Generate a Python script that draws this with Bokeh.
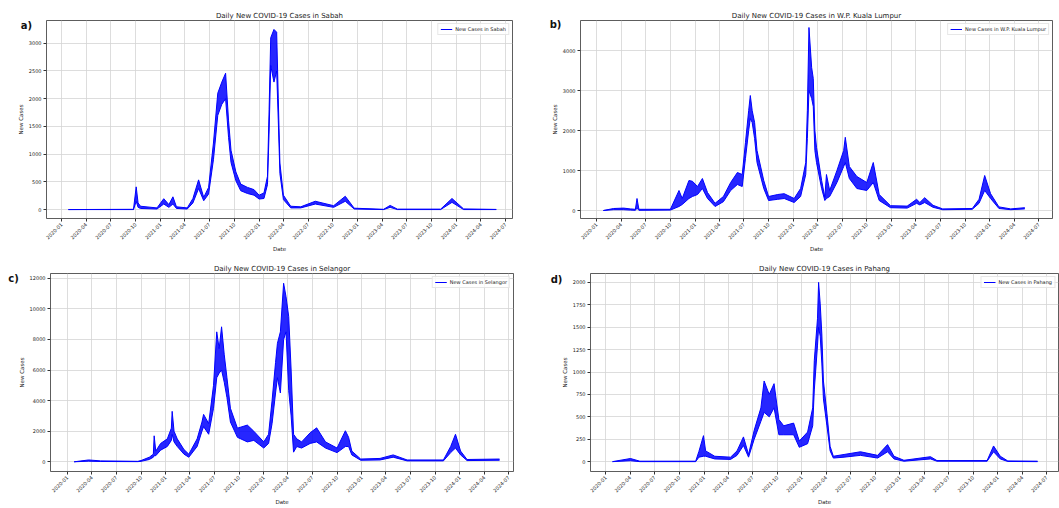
import math
import pandas as pd
from bokeh.plotting import figure
from bokeh.layouts import column, row
from bokeh.models import (ColumnDataSource, FixedTicker, DatetimeTickFormatter, Range1d,
                          Label, Legend, LegendItem)
from bokeh.embed import file_html
from bokeh.resources import INLINE

FONT = "DejaVu Sans"
BLUE = "#0000ff"

# ---------------- data (upper / lower envelope of the daily band) -------------
sabah_dates = ["2020-01-26", "2020-09-23", "2020-10-03", "2020-10-10", "2020-10-19", "2020-12-19",
               "2021-01-13", "2021-02-01", "2021-02-16", "2021-03-01", "2021-04-10", "2021-05-01",
               "2021-05-22", "2021-06-10", "2021-06-28", "2021-07-16", "2021-08-01", "2021-08-16",
               "2021-08-30", "2021-09-10", "2021-09-19", "2021-10-07", "2021-10-25", "2021-11-19",
               "2021-12-13", "2022-01-01", "2022-01-19", "2022-02-01", "2022-02-07", "2022-02-13",
               "2022-02-25", "2022-03-07", "2022-03-13", "2022-03-19", "2022-04-01", "2022-04-28",
               "2022-06-04", "2022-07-28", "2022-10-04", "2022-11-16", "2022-12-19", "2023-04-07",
               "2023-05-01", "2023-05-28", "2023-11-04", "2023-12-16", "2024-01-28", "2024-05-28"]
sabah_high = [0, 5, 410, 120, 60, 30, 196, 90, 230, 50, 30, 200,
              536, 220, 400, 1200, 2100, 2300, 2460, 1600, 1070, 680, 460, 400,
              360, 260, 300, 600, 1800, 3100, 3250, 3200, 2000, 840, 260, 60,
              50, 150, 70, 240, 25, 5, 75, 8, 8, 200, 12, 3]
sabah_low = [0, 0, 150, 40, 20, 10, 100, 40, 100, 20, 10, 120,
             380, 160, 280, 900, 1700, 1900, 2000, 1300, 850, 520, 340, 290,
             260, 190, 200, 450, 1400, 2600, 2300, 2500, 1600, 650, 180, 30,
             30, 100, 40, 150, 10, 0, 40, 0, 0, 130, 0, 0]

kl_dates = ["2020-01-26", "2020-03-04", "2020-04-10", "2020-05-05", "2020-05-24", "2020-05-30",
            "2020-06-06", "2020-10-01", "2020-11-02", "2020-11-14", "2020-12-09", "2020-12-22",
            "2021-01-10", "2021-01-28", "2021-02-16", "2021-03-16", "2021-04-16", "2021-05-13",
            "2021-06-07", "2021-06-25", "2021-07-07", "2021-07-19", "2021-07-25", "2021-08-01",
            "2021-08-10", "2021-08-19", "2021-09-13", "2021-10-01", "2021-11-04", "2021-11-28",
            "2022-01-04", "2022-01-28", "2022-02-16", "2022-02-22", "2022-02-28", "2022-03-10",
            "2022-03-16", "2022-03-22", "2022-03-28", "2022-04-16", "2022-04-28", "2022-05-04",
            "2022-05-16", "2022-06-12", "2022-07-07", "2022-07-13", "2022-07-28", "2022-08-25",
            "2022-10-01", "2022-10-25", "2022-11-16", "2022-12-28", "2023-02-28", "2023-04-04",
            "2023-04-16", "2023-05-04", "2023-06-04", "2023-07-10", "2023-10-28", "2023-11-22",
            "2023-12-13", "2024-01-04", "2024-02-04", "2024-03-19", "2024-05-10"]
kl_high = [0, 50, 60, 40, 30, 300, 30, 30, 500, 300, 750, 730,
           600, 800, 450, 180, 350, 700, 950, 900, 1700, 2500, 2875, 2500,
           2200, 1500, 750, 350, 400, 420, 300, 550, 1200, 2500, 4575, 3575,
           3300, 2000, 1580, 750, 330, 900, 500, 1000, 1500, 1830, 1100, 850,
           700, 1200, 400, 120, 110, 280, 200, 320, 130, 40, 50, 280,
           875, 420, 90, 40, 70]
kl_low = [0, 20, 20, 10, 5, 60, 5, 10, 100, 150, 300, 350,
          400, 550, 300, 100, 220, 500, 650, 600, 1300, 2000, 2300, 2200,
          1800, 1200, 550, 250, 280, 300, 200, 350, 900, 1800, 3000, 2800,
          2600, 1500, 1200, 550, 250, 300, 350, 700, 1100, 1200, 800, 550,
          500, 700, 250, 70, 60, 180, 140, 200, 80, 20, 30, 180,
          500, 300, 50, 20, 40]

selangor_dates = ["2020-01-26", "2020-03-20", "2020-05-04", "2020-09-19", "2020-10-01", "2020-11-01",
                  "2020-11-16", "2020-11-19", "2020-11-25", "2020-12-13", "2021-01-07", "2021-01-22",
                  "2021-01-25", "2021-02-01", "2021-02-13", "2021-03-10", "2021-03-28", "2021-04-28",
                  "2021-05-16", "2021-05-22", "2021-06-10", "2021-06-28", "2021-07-10", "2021-07-19",
                  "2021-07-28", "2021-08-07", "2021-08-17", "2021-08-30", "2021-09-25", "2021-11-01",
                  "2021-11-25", "2022-01-01", "2022-01-19", "2022-02-01", "2022-02-14", "2022-02-21",
                  "2022-03-04", "2022-03-16", "2022-03-25", "2022-04-04", "2022-04-13", "2022-04-22",
                  "2022-05-04", "2022-05-22", "2022-06-23", "2022-07-17", "2022-08-19", "2022-10-01",
                  "2022-11-01", "2022-11-13", "2022-11-25", "2022-12-28", "2023-03-10", "2023-04-28",
                  "2023-06-19", "2023-11-01", "2023-11-28", "2023-12-16", "2024-01-04", "2024-01-28",
                  "2024-05-28"]
selangor_high = [0, 120, 60, 30, 80, 300, 500, 1700, 700, 1200, 1500, 2200,
                 3300, 2000, 1500, 800, 500, 1500, 2600, 3100, 2500, 5000, 8500, 7400,
                 8830, 7000, 5500, 3500, 2200, 2400, 2000, 1300, 1800, 4000, 6500, 7750,
                 8500, 11680, 10800, 9500, 6000, 1800, 1500, 1300, 1900, 2220, 1300, 900,
                 2030, 1600, 700, 180, 220, 450, 120, 120, 1000, 1800, 700, 150,
                 180]
selangor_low = [0, 40, 20, 10, 30, 150, 300, 400, 400, 760, 1000, 1400,
                1800, 1300, 1000, 500, 300, 1000, 2000, 2300, 1800, 3500, 5500, 5800,
                6000, 5200, 4200, 2600, 1600, 1300, 1400, 900, 1200, 2500, 4500, 5500,
                4500, 8000, 8500, 4650, 3000, 630, 1000, 900, 1200, 1300, 900, 600,
                1000, 1000, 450, 100, 120, 300, 60, 60, 600, 900, 450, 80,
                100]

pahang_dates = ["2020-01-26", "2020-04-02", "2020-05-07", "2020-12-01", "2020-12-13", "2020-12-30",
                "2021-01-07", "2021-02-10", "2021-04-10", "2021-05-04", "2021-05-28", "2021-06-16",
                "2021-07-07", "2021-08-01", "2021-08-13", "2021-09-01", "2021-09-19", "2021-10-07",
                "2021-10-25", "2021-12-01", "2021-12-22", "2022-01-22", "2022-02-10", "2022-02-16",
                "2022-02-28", "2022-03-04", "2022-03-10", "2022-03-16", "2022-03-22", "2022-04-04",
                "2022-04-16", "2022-04-28", "2022-06-07", "2022-08-07", "2022-10-10", "2022-11-16",
                "2022-12-10", "2023-01-16", "2023-04-25", "2023-05-19", "2023-11-22", "2023-12-16",
                "2024-01-10", "2024-02-07", "2024-05-28"]
pahang_high = [0, 35, 5, 5, 114, 290, 120, 60, 50, 120, 276, 80,
               350, 600, 900, 750, 870, 470, 400, 430, 230, 330, 600, 1130,
               1600, 2000, 1760, 1425, 900, 540, 170, 60, 80, 110, 70, 190,
               60, 15, 55, 12, 12, 175, 60, 8, 5]
pahang_low = [0, 10, 0, 0, 50, 60, 60, 30, 25, 70, 180, 50,
              250, 450, 550, 500, 600, 300, 300, 300, 160, 200, 400, 800,
              1300, 1500, 1400, 1100, 700, 400, 120, 40, 50, 70, 40, 110,
              30, 5, 30, 5, 5, 110, 30, 2, 0]

tick_dates = ["2020-01-01", "2020-04-01", "2020-07-01", "2020-10-01", "2021-01-01", "2021-04-01",
              "2021-07-01", "2021-10-01", "2022-01-01", "2022-04-01", "2022-07-01", "2022-10-01",
              "2023-01-01", "2023-04-01", "2023-07-01", "2023-10-01", "2024-01-01", "2024-04-01",
              "2024-07-01"]


def ms(s):
    return pd.Timestamp(s).value / 1e6


TICKS = [ms(d) for d in tick_dates]


def panel(title, legend_label, letter, dates, hi, lo, yticks, yr, xr, width, height,
          borders, letter_xy):
    bl, br, bt, bb = borders
    p = figure(width=width, height=height, output_backend="svg", toolbar_location=None,
               x_axis_type="datetime",
               x_range=Range1d(ms(xr[0]), ms(xr[1])), y_range=Range1d(*yr),
               min_border_left=bl, min_border_right=br, min_border_top=bt, min_border_bottom=bb,
               background_fill_color="white", border_fill_color="white")
    src = ColumnDataSource(dict(x=pd.to_datetime(dates), hi=hi, lo=lo))
    p.varea(x="x", y1="lo", y2="hi", source=src, fill_color=BLUE, fill_alpha=0.85)
    r = p.line("x", "hi", source=src, line_color=BLUE, line_width=1)
    p.line("x", "lo", source=src, line_color=BLUE, line_width=1)

    leg = Legend(items=[LegendItem(label=legend_label, renderers=[r])], location="top_right",
                 label_text_font_size="5px", label_text_font=FONT, label_text_color="#222",
                 glyph_width=12, glyph_height=6, label_height=6, label_standoff=3,
                 padding=2, spacing=0, margin=3,
                 border_line_color="#d0d0d0", border_line_width=0.8,
                 background_fill_alpha=0.8)
    p.add_layout(leg)

    p.title.text = title
    p.title.align = "center"
    p.title.text_font = FONT
    p.title.text_font_size = "7px"
    p.title.text_font_style = "normal"
    p.title.text_color = "#222"
    p.title.standoff = 2

    p.xaxis.ticker = FixedTicker(ticks=TICKS)
    fmt = "%Y-%m"
    p.xaxis.formatter = DatetimeTickFormatter(years=fmt, months=fmt, days=fmt, hours=fmt,
                                              minutes=fmt, seconds=fmt, milliseconds=fmt,
                                              microseconds=fmt, hourmin=fmt, minsec=fmt)
    p.xaxis.major_label_orientation = math.pi / 4
    p.yaxis.ticker = FixedTicker(ticks=yticks)
    p.xaxis.axis_label = "Date"
    p.yaxis.axis_label = "New Cases"
    for ax in (p.xaxis, p.yaxis):
        ax.axis_label_text_font = FONT
        ax.axis_label_text_font_size = "5.5px"
        ax.axis_label_text_font_style = "normal"
        ax.axis_label_text_color = "#222"
        ax.axis_label_standoff = 2
        ax.major_label_text_font = FONT
        ax.major_label_text_font_size = "5px"
        ax.major_label_text_color = "#222"
        ax.major_label_standoff = 2
        ax.axis_line_color = None
        ax.major_tick_line_color = "#333"
        ax.major_tick_out = 3
        ax.major_tick_in = 0
        ax.minor_tick_line_color = None
    p.xgrid.ticker = FixedTicker(ticks=TICKS)
    p.ygrid.ticker = FixedTicker(ticks=yticks)
    p.grid.grid_line_color = "#d4d4d4"
    p.grid.grid_line_width = 0.8
    p.outline_line_color = "#333"
    p.outline_line_width = 0.8

    lx, ly = letter_xy
    p.add_layout(Label(x=lx, y=ly, x_units="canvas", y_units="canvas", text=letter,
                       text_font=FONT, text_font_size="10px", text_font_style="bold",
                       text_color="#111", text_align="center", text_baseline="middle"), "left")
    return p


# frame edges measured: a 46-512 x 19-219 ; b 580-1052 x 20-218 ; c 50-513 x 273-477 ; d 590-1058 x 272-472
pa = panel("Daily New COVID-19 Cases in Sabah", "New Cases in Sabah", "a)",
           sabah_dates, sabah_high, sabah_low, [0, 500, 1000, 1500, 2000, 2500, 3000],
           (-161, 3411), ("2019-11-06", "2024-07-27"), 529, 258, (46, 17, 19, 39),
           (26, 25))
pb = panel("Daily New COVID-19 Cases in W.P. Kuala Lumpur", "New Cases in W.P. Kuala Lumpur", "b)",
           kl_dates, kl_high, kl_low, [0, 1000, 2000, 3000, 4000],
           (-200, 4750), ("2019-11-02", "2024-08-21"), 530, 258, (51, 7, 20, 40),
           (555 - 529, 24))
pc = panel("Daily New COVID-19 Cases in Selangor", "New Cases in Selangor", "c)",
           selangor_dates, selangor_high, selangor_low, [0, 2000, 4000, 6000, 8000, 10000, 12000],
           (-635, 12317), ("2019-10-30", "2024-07-19"), 529, 250, (50, 16, 15, 31),
           (13, 278 - 258))
pd_ = panel("Daily New COVID-19 Cases in Pahang", "New Cases in Pahang", "d)",
            pahang_dates, pahang_high, pahang_low,
            [0, 250, 500, 750, 1000, 1250, 1500, 1750, 2000],
            (-110, 2099), ("2019-11-05", "2024-08-14"), 530, 250, (61, 1, 14, 36),
            (556 - 529, 279 - 258))

layout = column(row(pa, pb), row(pc, pd_))
open("out.html", "w").write(file_html(layout, INLINE))
